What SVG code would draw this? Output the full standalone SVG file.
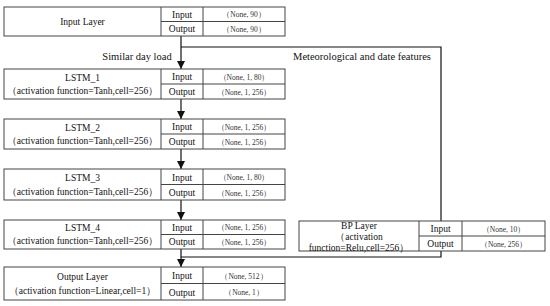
<svg xmlns="http://www.w3.org/2000/svg" width="550" height="306" viewBox="0 0 550 306">
<defs>
<marker id="arr" markerWidth="8" markerHeight="8" refX="8" refY="4" orient="auto" markerUnits="userSpaceOnUse" viewBox="0 0 8 8">
<path d="M0,0 L8,4 L0,8 Z" fill="#111"/>
</marker>
<style>
.box{fill:#fff;stroke:#444;stroke-width:1}
.ln{stroke:#444;stroke-width:1;fill:none}
.nm{font-family:"Liberation Serif",serif;font-size:9.5px;fill:#111;text-anchor:middle}
.io{font-family:"Liberation Serif",serif;font-size:9.5px;fill:#111;text-anchor:middle}
.v{font-family:"Liberation Serif",serif;font-size:7.5px;fill:#333;text-anchor:middle}
.lb{font-family:"Liberation Serif",serif;font-size:10.5px;fill:#111;text-anchor:middle}
.cn{stroke:#111;stroke-width:1.2;fill:none}
</style>
</defs>
<rect width="550" height="306" fill="#fff"/>
<g id="connectors">
<path class="cn" d="M181,36 V69" marker-end="url(#arr)"/>
<path class="cn" d="M181,99 V119" marker-end="url(#arr)"/>
<path class="cn" d="M181,149 V169" marker-end="url(#arr)"/>
<path class="cn" d="M181,200 V220" marker-end="url(#arr)"/>
<path class="cn" d="M181,249 V267" marker-end="url(#arr)"/>
<path class="cn" d="M181,47 H441 V221"/>
<path class="cn" d="M441,251 V257 H181"/>
<text class="lb" x="137" y="60">Similar day load</text>
<text class="lb" x="362" y="60">Meteorological and date features</text>
</g>
<g id="input-layer">
<rect class="box" x="4" y="7" width="281" height="29"/>
<path class="ln" d="M161,7 V36 M203,7 V36 M161,21.5 H285"/>
<text class="nm" x="82.5" y="25">Input Layer</text>
<text class="io" x="182" y="17.5">Input</text>
<text class="io" x="182" y="32">Output</text>
<text class="v" x="244" y="17">（None, 90）</text>
<text class="v" x="244" y="31.5">（None, 90）</text>
</g>
<g id="lstm1">
<rect class="box" x="4" y="69" width="281" height="30"/>
<path class="ln" d="M161,69 V99 M203,69 V99 M161,84 H285"/>
<text class="nm" x="82.5" y="81">LSTM_1</text>
<text class="nm" x="82.5" y="94">（activation function=Tanh,cell=256）</text>
<text class="io" x="182" y="80">Input</text>
<text class="io" x="182" y="95">Output</text>
<text class="v" x="244" y="79.5">（None, 1, 80）</text>
<text class="v" x="244" y="94.5">（None, 1, 256）</text>
</g>
<g id="lstm2">
<rect class="box" x="4" y="119" width="281" height="30"/>
<path class="ln" d="M161,119 V149 M203,119 V149 M161,134 H285"/>
<text class="nm" x="82.5" y="131">LSTM_2</text>
<text class="nm" x="82.5" y="144">（activation function=Tanh,cell=256）</text>
<text class="io" x="182" y="130">Input</text>
<text class="io" x="182" y="145">Output</text>
<text class="v" x="244" y="129.5">（None, 1, 256）</text>
<text class="v" x="244" y="144.5">（None, 1, 256）</text>
</g>
<g id="lstm3">
<rect class="box" x="4" y="169" width="281" height="31"/>
<path class="ln" d="M161,169 V200 M203,169 V200 M161,184.5 H285"/>
<text class="nm" x="82.5" y="181">LSTM_3</text>
<text class="nm" x="82.5" y="195">（activation function=Tanh,cell=256）</text>
<text class="io" x="182" y="180.5">Input</text>
<text class="io" x="182" y="196">Output</text>
<text class="v" x="244" y="180">（None, 1, 80）</text>
<text class="v" x="244" y="195.5">（None, 1, 256）</text>
</g>
<g id="lstm4">
<rect class="box" x="4" y="220" width="281" height="29"/>
<path class="ln" d="M161,220 V249 M203,220 V249 M161,234.5 H285"/>
<text class="nm" x="82.5" y="231">LSTM_4</text>
<text class="nm" x="82.5" y="244">（activation function=Tanh,cell=256）</text>
<text class="io" x="182" y="230.5">Input</text>
<text class="io" x="182" y="245">Output</text>
<text class="v" x="244" y="230">（None, 1, 256）</text>
<text class="v" x="244" y="244.5">（None, 1, 256）</text>
</g>
<g id="output-layer">
<rect class="box" x="4" y="267" width="281" height="33"/>
<path class="ln" d="M161,267 V300 M203,267 V300 M161,283.5 H285"/>
<text class="nm" x="82.5" y="280">Output Layer</text>
<text class="nm" x="82.5" y="294">（activation function=Linear,cell=1）</text>
<text class="io" x="182" y="279">Input</text>
<text class="io" x="182" y="296">Output</text>
<text class="v" x="244" y="278.5">（None, 512）</text>
<text class="v" x="244" y="295">（None, 1）</text>
</g>
<g id="bp-layer">
<rect class="box" x="299" y="221" width="246" height="30"/>
<path class="ln" d="M419,221 V251 M462,221 V251 M419,236 H545"/>
<text class="nm" x="359" y="229">BP Layer</text>
<text class="nm" x="359" y="240">（activation</text>
<text class="nm" x="359" y="251">function=Relu,cell=256）</text>
<text class="io" x="440.5" y="232">Input</text>
<text class="io" x="440.5" y="247">Output</text>
<text class="v" x="503.5" y="231.5">（None, 10）</text>
<text class="v" x="503.5" y="246.5">（None, 256）</text>
</g>
</svg>
